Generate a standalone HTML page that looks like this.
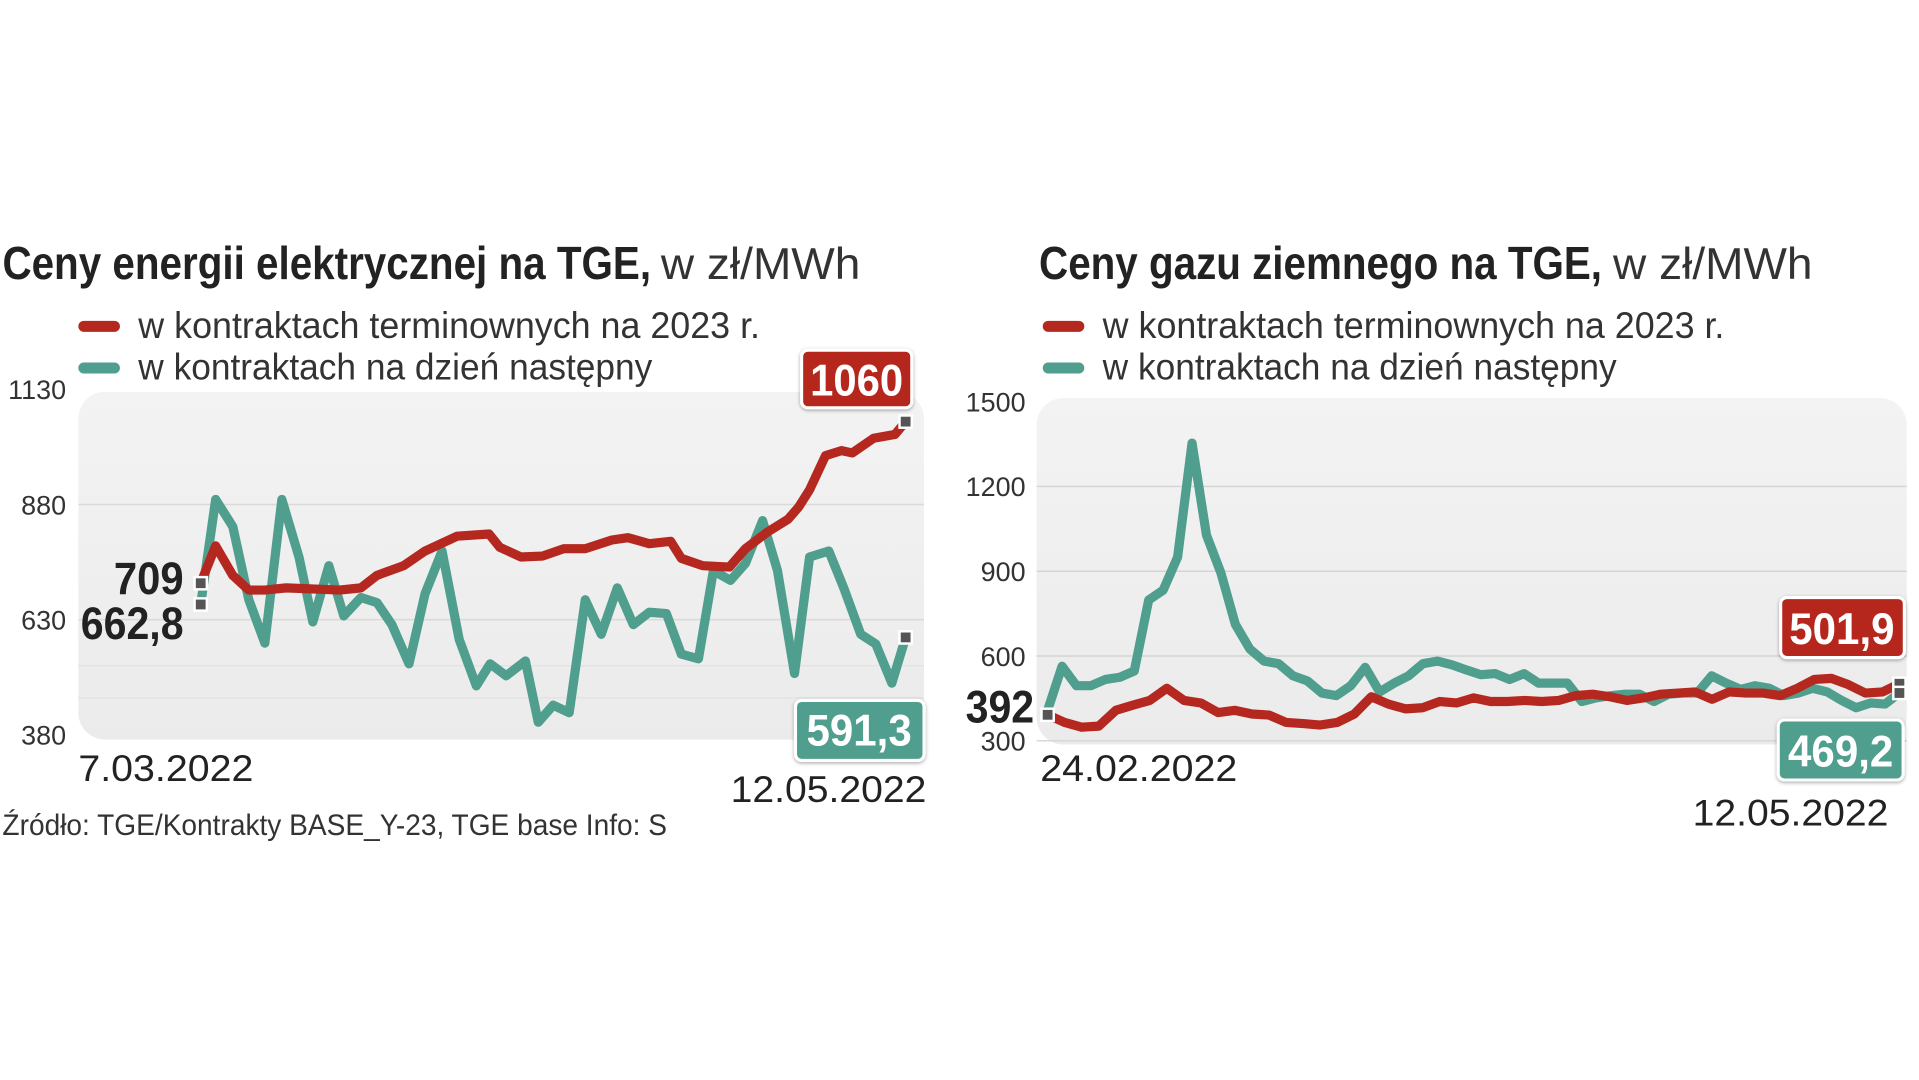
<!DOCTYPE html>
<html><head><meta charset="utf-8"><style>
html,body{margin:0;padding:0;background:#fff;width:1919px;height:1080px;overflow:hidden}
svg{display:block}
text{font-family:"Liberation Sans Narrow","Liberation Sans",sans-serif}
.tick{font-size:22px;fill:#333}
.leg{font-size:30px;fill:#333}
</style></head><body>
<svg id="svg" width="1919" height="1080" viewBox="0 0 1568 882" preserveAspectRatio="none" xmlns="http://www.w3.org/2000/svg">
<defs>
<linearGradient id="bg" x1="0" y1="0" x2="0" y2="1"><stop offset="0" stop-color="#f3f3f3"/><stop offset="1" stop-color="#ebebeb"/></linearGradient>
<filter id="sh" x="-20%" y="-20%" width="140%" height="140%"><feDropShadow dx="0" dy="1" stdDeviation="1.5" flood-color="#000" flood-opacity="0.35"/></filter>
</defs>
<text x="2" y="228" font-size="38" font-weight="bold" fill="#222" textLength="530" lengthAdjust="spacingAndGlyphs">Ceny energii elektrycznej na TGE,</text>
<text x="540" y="228" font-size="36" fill="#333" textLength="163" lengthAdjust="spacingAndGlyphs">w zł/MWh</text>
<rect x="64" y="262" width="34" height="9" rx="4.5" fill="#b5281f"/>
<text class="leg" x="113" y="276" textLength="508" lengthAdjust="spacingAndGlyphs">w kontraktach terminownych na 2023 r.</text>
<rect x="64" y="296" width="34" height="9" rx="4.5" fill="#4f9e8e"/>
<text class="leg" x="113" y="310" textLength="420" lengthAdjust="spacingAndGlyphs">w kontraktach na dzień następny</text>
<rect x="64" y="320" width="691" height="284" rx="22" fill="url(#bg)"/>
<g id="leftGrid"></g>
<g id="leftLines"></g>
<text x="64" y="638" font-size="30" fill="#222" textLength="143" lengthAdjust="spacingAndGlyphs">7.03.2022</text>
<text x="757" y="655" font-size="30" fill="#222" text-anchor="end" textLength="160" lengthAdjust="spacingAndGlyphs">12.05.2022</text>
<text x="2" y="682" font-size="24" fill="#333" textLength="543" lengthAdjust="spacingAndGlyphs">Źródło: TGE/Kontrakty BASE_Y-23, TGE base  Info: S</text>
<text x="93" y="485" font-size="37" font-weight="bold" fill="#222" textLength="57" lengthAdjust="spacingAndGlyphs">709</text>
<text x="66" y="522" font-size="37" font-weight="bold" fill="#222" textLength="84" lengthAdjust="spacingAndGlyphs">662,8</text>
<g filter="url(#sh)"><rect x="655" y="286" width="90" height="47" rx="5" fill="#b5281f" stroke="#fff" stroke-width="2.5"/><text x="700" y="323" font-size="36" font-weight="bold" fill="#fff" text-anchor="middle" textLength="76" lengthAdjust="spacingAndGlyphs">1060</text></g>
<g filter="url(#sh)"><rect x="650" y="572" width="105" height="49" rx="5" fill="#4f9e8e" stroke="#fff" stroke-width="2.5"/><text x="702" y="609" font-size="36" font-weight="bold" fill="#fff" text-anchor="middle" textLength="86" lengthAdjust="spacingAndGlyphs">591,3</text></g>

<text x="849" y="228" font-size="38" font-weight="bold" fill="#222" textLength="460" lengthAdjust="spacingAndGlyphs">Ceny gazu ziemnego na TGE,</text>
<text x="1318" y="228" font-size="36" fill="#333" textLength="163" lengthAdjust="spacingAndGlyphs">w zł/MWh</text>
<rect x="852" y="262" width="34" height="9" rx="4.5" fill="#b5281f"/>
<text class="leg" x="901" y="276" textLength="508" lengthAdjust="spacingAndGlyphs">w kontraktach terminownych na 2023 r.</text>
<rect x="852" y="296" width="34" height="9" rx="4.5" fill="#4f9e8e"/>
<text class="leg" x="901" y="310" textLength="420" lengthAdjust="spacingAndGlyphs">w kontraktach na dzień następny</text>
<rect x="847" y="325" width="711" height="283" rx="22" fill="url(#bg)"/>
<g id="rightGrid"></g>
<g id="rightLines"></g>
<text x="850" y="638" font-size="30" fill="#222" textLength="161" lengthAdjust="spacingAndGlyphs">24.02.2022</text>
<text x="1543" y="674" font-size="30" fill="#222" text-anchor="end" textLength="160" lengthAdjust="spacingAndGlyphs">12.05.2022</text>
<text x="789" y="590" font-size="37" font-weight="bold" fill="#222" textLength="56" lengthAdjust="spacingAndGlyphs">392</text>
<g filter="url(#sh)"><rect x="1455" y="488" width="101" height="49" rx="5" fill="#b5281f" stroke="#fff" stroke-width="2.5"/><text x="1505" y="526" font-size="36" font-weight="bold" fill="#fff" text-anchor="middle" textLength="86" lengthAdjust="spacingAndGlyphs">501,9</text></g>
<g filter="url(#sh)"><rect x="1453" y="588" width="102" height="49" rx="5" fill="#4f9e8e" stroke="#fff" stroke-width="2.5"/><text x="1504" y="626" font-size="36" font-weight="bold" fill="#fff" text-anchor="middle" textLength="86" lengthAdjust="spacingAndGlyphs">469,2</text></g>
</svg>
<script>
const leftTicks = [1130, 880, 630, 380];
const leftRedDays = [0,1.4,3,4.5,6,8,11,13,15,16.5,19,21,24,27,28,30,32,34,36,38.5,40,42,44,45,47,49.5,51,53,55,56,57,58.5,60,61,63,65,66];
const leftRedVals = [709,790,726,694,694,699,696,694,699,726,747,779,811,816,787,766,768,784,784,803,808,795,800,763,747,744,784,819,848,875,912,986,997,992,1024,1032,1060];
const leftGreenDays = [0,1.4,3,4.5,6,7.6,9.2,10.5,12,13.4,15,16.5,17.9,19.5,21,22.6,24.2,25.8,27.1,28.6,30.4,31.6,33,34.5,36,37.5,39,40.5,42,43.6,45,46.6,48,49.6,51,52.6,54,55.6,57,58.8,60.2,61.8,63.2,64.7,66];
const leftGreenVals = [662.8,891,832,673,579,891,766,625,747,638,678,667,619,534,686,779,587,486,534,508,540,407,444,428,673,598,699,619,646,643,555,545,736,715,752,845,736,513,766,779,699,598,577,492,591.3];
const rightTicks = [1500, 1200, 900, 600, 300];
const rightGreenVals = [408,564,495,495,517,525,547,798,833,950,1353,1028,894,712,625,582,573,530,512,469,460,495,560,473,504,530,573,582,569,551,534,538,517,538,504,504,504,439,452,460,465,465,439,465,469,469,530,504,482,495,486,460,469,486,473,443,417,434,430,469.2];
const rightRedVals = [392,365,348,352,408,426,443,486,443,434,400,408,395,391,365,361,356,365,395,456,430,413,417,439,434,452,439,439,443,439,443,460,465,456,443,452,465,469,473,447,473,469,469,460,486,517,521,499,469,473,501.9];

const NS = 'http://www.w3.org/2000/svg';
function mk(tag, attrs, parent){const e=document.createElementNS(NS,tag);for(const k in attrs)e.setAttribute(k,attrs[k]);parent.appendChild(e);return e;}

const lY = v => 412 + (880 - v) * 94 / 250;
const lX = d => 164 + d * (740 - 164) / 66;
const lGrid = document.getElementById('leftGrid');
leftTicks.forEach(t => {
  const tx = mk('text', {x: 54, y: lY(t) + 8, class: 'tick', 'text-anchor': 'end'}, lGrid);
  
  
  tx.textContent = t;
  if (t !== 1130 && t !== 380) {
    const g = mk('line', {x1: 64, x2: 755, y1: lY(t), y2: lY(t), stroke: '#d9d9d9', 'stroke-width': 1.2}, lGrid);
    
    
  }
});
[530, 460].forEach(v => {
  const g = mk('line', {x1: 64, x2: 755, y1: lY(v), y2: lY(v), stroke: '#e2e2e2', 'stroke-width': 1}, lGrid);
  
  
});
const lL = document.getElementById('leftLines');
function series(parent, xs, ys, color, name){
  const p = mk('polyline', {points: xs.map((x,i)=>x.toFixed(1)+','+ys[i].toFixed(1)).join(' '), fill:'none', stroke: color, 'stroke-width': 7.5, 'stroke-linejoin':'round', 'stroke-linecap':'round'}, parent);
  
  
}
function marker(parent, x, y, name){
  const r = mk('rect', {x: x-5, y: y-5, width: 10, height: 10, fill: '#555', stroke: '#fff', 'stroke-width': 2}, parent);
  
  
}
series(lL, leftGreenDays.map(lX), leftGreenVals.map(lY), '#4f9e8e', 'left-green-line');
series(lL, leftRedDays.map(lX), leftRedVals.map(lY), '#b5281f', 'left-red-line');
marker(lL, lX(leftRedDays[0]), lY(leftRedVals[0]), 'left-red-start-marker');
marker(lL, lX(leftGreenDays[0]), lY(leftGreenVals[0]), 'left-green-start-marker');
marker(lL, lX(leftRedDays[leftRedDays.length-1]), lY(leftRedVals[leftRedVals.length-1]), 'left-red-end-marker');
marker(lL, lX(leftGreenDays[leftGreenDays.length-1]), lY(leftGreenVals[leftGreenVals.length-1]), 'left-green-end-marker');

const rY = v => 328 + (1500 - v) * 69.25 / 300;
const rX = (i, n) => 856 + i * (1552 - 856) / (n - 1);
const rGrid = document.getElementById('rightGrid');
rightTicks.forEach(t => {
  const tx = mk('text', {x: 838, y: rY(t) + 8, class: 'tick', 'text-anchor': 'end'}, rGrid);
  
  
  tx.textContent = t;
  if (t !== 1500) {
    const g = mk('line', {x1: 847, x2: 1558, y1: rY(t), y2: rY(t), stroke: '#d4d4d4', 'stroke-width': 1.2}, rGrid);
    
    
  }
});
const rL = document.getElementById('rightLines');
series(rL, rightGreenVals.map((v,i)=>rX(i, rightGreenVals.length)), rightGreenVals.map(rY), '#4f9e8e', 'right-green-line');
series(rL, rightRedVals.map((v,i)=>rX(i, rightRedVals.length)), rightRedVals.map(rY), '#b5281f', 'right-red-line');
marker(rL, rX(0, rightRedVals.length), rY(rightRedVals[0]), 'right-start-marker');
marker(rL, 1552, rY(rightRedVals[rightRedVals.length-1]), 'right-red-end-marker');
marker(rL, 1552, rY(rightGreenVals[rightGreenVals.length-1]), 'right-green-end-marker');
</script>
</body></html>
